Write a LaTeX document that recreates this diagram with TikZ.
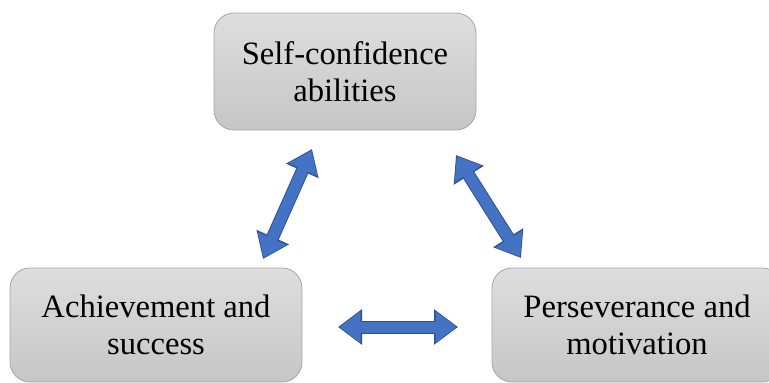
\documentclass[tikz,border=0pt]{standalone}
\usepackage{fontspec}
\setmainfont{Liberation Serif}
\usetikzlibrary{arrows.meta}
\definecolor{boxtop}{HTML}{DEDEDE}
\definecolor{boxbot}{HTML}{C6C6C6}
\definecolor{boxedge}{HTML}{A6A6A6}
\definecolor{arrowfill}{HTML}{4472C4}
\definecolor{arrowedge}{HTML}{2F528F}
\tikzset{
  factor/.style={draw=boxedge, line width=0.8pt, rounded corners=20pt, top color=boxtop, bottom color=boxbot,
    align=center, inner sep=0pt, font=\fontsize{32.6}{36.7}\selectfont},
  link/.style={draw=arrowedge, line width=13pt, {Triangle[width=34pt,length=24pt]}-{Triangle[width=34pt,length=24pt]},
    postaction={draw=arrowfill, line width=11pt, shorten <=1.5pt, shorten >=1.5pt,
      {Triangle[width=30pt,length=21pt]}-{Triangle[width=30pt,length=21pt]}}}
}
\begin{document}
\begin{tikzpicture}[x=1pt, y=-1pt]
  \clip (0,0) rectangle (769,383);
  \fill[white] (0,0) rectangle (769,383);
  \node[factor, minimum width=262pt, minimum height=117pt] (self) at (345,71.5) {Self-confidence\\abilities};
  \node[factor, minimum width=292pt, minimum height=114pt] (ach) at (156,325) {Achievement and\\success};
  \node[factor, minimum width=290pt, minimum height=114pt] (pers) at (637,325) {Perseverance and\\motivation};
  \coordinate (ach-self) at (263,259);
  \coordinate (self-ach) at (312,149);
  \coordinate (self-pers) at (456,155);
  \coordinate (pers-self) at (521,258);
  \coordinate (ach-pers) at (338,327);
  \coordinate (pers-ach) at (458,327);
  \draw[link] (ach-self) -- (self-ach);
  \draw[link] (self-pers) -- (pers-self);
  \draw[link] (ach-pers) -- (pers-ach);
\end{tikzpicture}
\end{document}
